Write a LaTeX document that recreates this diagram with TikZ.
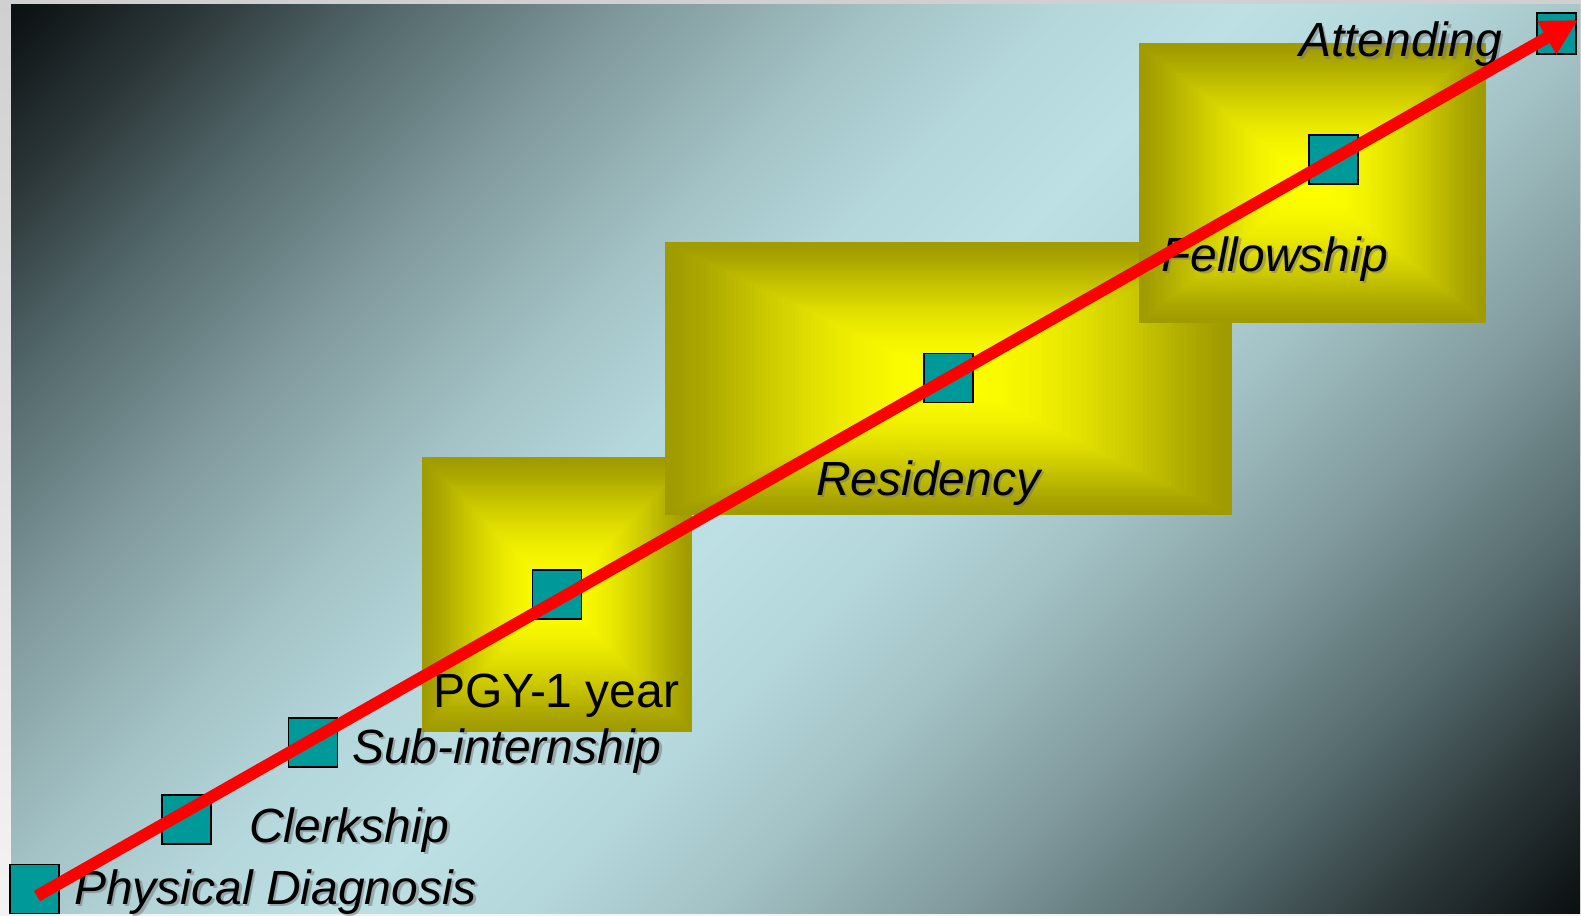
\documentclass[tikz,border=0pt]{standalone}
\usepackage{fontspec}
\setmainfont{Liberation Sans}
\usetikzlibrary{arrows.meta,calc}

% page surround and slide background
\definecolor{pagetop}{HTML}{D0D0D0}
\definecolor{pagebot}{HTML}{F3F3F3}
\definecolor{bgA}{HTML}{0B1012}
\definecolor{bgB}{HTML}{2C3739}
\definecolor{bgC}{HTML}{52676A}
\definecolor{bgD}{HTML}{80999C}
\definecolor{bgE}{HTML}{A3C2C5}
\definecolor{bgF}{HTML}{B4D7DB}
\definecolor{bgG}{HTML}{BCE0E4}
% glowing stage boxes
\definecolor{glowA}{HTML}{FFFF00}
\definecolor{glowF}{HTML}{A09B00}
\definecolor{tealsq}{HTML}{009999}
\definecolor{arrowred}{HTML}{FF0000}

% diagonal background: dark corners, light band along the anti-diagonal
\pgfdeclareverticalshading{slidebg}{100bp}{%
  color(0bp)=(bgA); color(14.64bp)=(bgA); color(19.94bp)=(bgB);
  color(25.25bp)=(bgC); color(32.32bp)=(bgD); color(39.39bp)=(bgE);
  color(44.7bp)=(bgF); color(50bp)=(bgG); color(55.3bp)=(bgF);
  color(60.61bp)=(bgE); color(67.68bp)=(bgD); color(74.75bp)=(bgC);
  color(80.06bp)=(bgB); color(85.36bp)=(bgA); color(100bp)=(bgA)}

\newcommand\slidelabel[4][lbl]{%
  \node[#1, text=black!55, opacity=0.5, xshift=2.8pt, yshift=-2.8pt] (#2-sh) at (#3) {#4};
  \node[#1] (#2) at (#3) {#4};}

\begin{document}
\begin{tikzpicture}[x=1pt, y=-1pt,
  % concentric rectangles: olive rim fading to bright yellow in the middle
  glowbox/.style={rectangle, inner sep=0pt, outer sep=0pt, fill=glowF,
    path picture={
      \foreach \ring in {0,...,69}{
        \pgfmathsetmacro\rr{1-\ring/70}
        \pgfmathtruncatemacro\pp{100*(1-\rr*\rr)^1.4}
        \fill[glowA!\pp!glowF]
          ($(path picture bounding box.center)!\rr!(path picture bounding box.north west)$)
          rectangle
          ($(path picture bounding box.center)!\rr!(path picture bounding box.south east)$);
      }
    }},
  sq/.style={draw=black, line width=1.3pt, fill=tealsq, inner sep=0pt,
    minimum width=49pt, minimum height=49pt},
  lbl/.style={anchor=base west, inner sep=0pt, outer sep=0pt,
    font=\fontsize{48pt}{58pt}\selectfont\itshape},
  plainlbl/.style={lbl, font=\fontsize{48pt}{58pt}\selectfont},
  progress/.style={draw=arrowred, line width=12pt,
    -{Triangle[length=36pt, width=36pt]}}
]
\useasboundingbox (0,0) rectangle (1581,915);

% page and slide
\shade[top color=pagetop, bottom color=pagebot] (0,0) rectangle (1581,915);
\shade[shading=slidebg, shading angle=45] (11,5) rectangle (1580,913);

% training stages
\node[glowbox, minimum width=270pt, minimum height=275pt] (pgybox) at (557,594.5) {};
\node[glowbox, minimum width=567pt, minimum height=273pt] (resbox) at (948.5,378.5) {};
\node[glowbox, minimum width=347pt, minimum height=280pt] (felbox) at (1312.5,183) {};

% milestones
\node[sq] (pd)  at (34.5,889) {};
\node[sq] (clk) at (186.5,819.5) {};
\node[sq] (sub) at (313,742.5) {};
\node[sq] (pgy) at (557,594.5) {};
\node[sq] (res) at (948.5,378) {};
\node[sq] (fel) at (1333.5,159.5) {};
\node[sq, minimum width=39pt, minimum height=41pt] (att) at (1556.5,33.5) {};

% labels
\slidelabel{pdlbl}{74,904}{Physical Diagnosis}
\slidelabel{clklbl}{249,842}{Clerkship}
\slidelabel{sublbl}{352,763}{Sub-internship}
\node[plainlbl] (pgylbl) at (433,707) {PGY-1 year};
\slidelabel{reslbl}{816,495}{Residency}
\slidelabel{fellbl}{1161,271}{Fellowship}
\slidelabel{attlbl}{1299,57}{Attending}

% career arrow
\coordinate (tail) at (37,896);
\coordinate (tip) at (1578,20);
\draw[progress] (tail) -- (tip);
\end{tikzpicture}
\end{document}
